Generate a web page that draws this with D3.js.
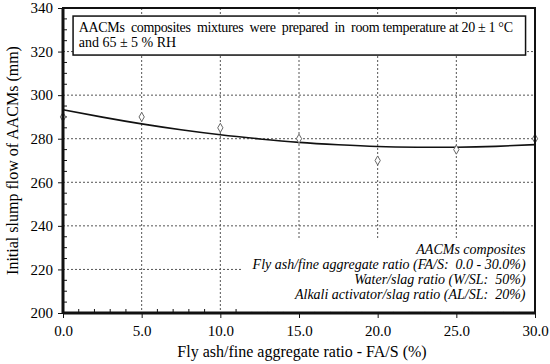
<!DOCTYPE html>
<meta charset="utf-8">
<head>
    <script type="text/javascript" src="https://cdn.jsdelivr.net/npm/d3@7/dist/d3.min.js"></script>
    <style>
        body { margin: 0; background: #fff; }
        text { font-family: "Liberation Serif", "Times New Roman", serif; fill: #000; }
        .note { white-space: pre; }
    </style>
</head>
<body>
<div id="chart"></div>
</body>
<script>
    // measured points (FA/S %, slump flow mm)
    var faRatio = [0, 5, 10, 15, 20, 25, 30];
    var slumpFlow = [290, 290, 285, 280, 270, 275, 280];

    // trend curve
    var trendX = [0, 2.5, 5, 7.5, 10, 12.5, 15, 17.5, 20, 22.5, 25, 27.5, 30];
    var trendY = [293.3, 289.9, 286.8, 284.1, 281.8, 279.9, 278.3, 277.2, 276.4, 276.1, 276.1, 276.5, 277.3];

    var xTicks = [0, 5, 10, 15, 20, 25, 30];
    var yTicks = [200, 220, 240, 260, 280, 300, 320, 340];

    var noteTop = ["AACMs  composites  mixtures  were  prepared  in  room temperature at 20 ± 1 °C",
                   "and 65 ± 5 % RH"];
    var noteBottom = ["AACMs composites",
                      "Fly ash/fine aggregate ratio (FA/S:  0.0 - 30.0%)",
                      "Water/slag ratio (W/SL:  50%)",
                      "Alkali activator/slag ratio (AL/SL:  20%)"];

    var W = 550, H = 364;
    var margin = {top: 8, right: 15, bottom: 51, left: 63};
    var width = W - margin.left - margin.right;
    var height = H - margin.top - margin.bottom;

    var svg = d3.select('#chart').append('svg')
        .attr('width', W).attr('height', H);
    var g = svg.append('g').attr('transform', 'translate(' + margin.left + ',' + margin.top + ')');

    var x = d3.scaleLinear().domain([0, 30]).range([0, width]);
    var y = d3.scaleLinear().domain([200, 340]).range([height, 0]);

    // grid
    g.append('g').selectAll('line').data(yTicks.slice(1, -1)).enter().append('line')
        .attr('x1', 0).attr('x2', width)
        .attr('y1', d => y(d)).attr('y2', d => y(d))
        .attr('stroke', '#555').attr('stroke-width', 1).attr('stroke-dasharray', '2,2');
    g.append('g').selectAll('line').data(xTicks.slice(1, -1)).enter().append('line')
        .attr('y1', 0).attr('y2', height)
        .attr('x1', d => x(d)).attr('x2', d => x(d))
        .attr('stroke', '#555').attr('stroke-width', 1).attr('stroke-dasharray', '2,2');

    // minor ticks inside
    var xMinor = d3.range(0, 30.01, 1).filter(d => d % 5 !== 0);
    var yMinor = d3.range(200, 340.01, 5).filter(d => d % 20 !== 0);
    g.append('g').selectAll('line').data(xMinor).enter().append('line')
        .attr('x1', d => x(d)).attr('x2', d => x(d))
        .attr('y1', height).attr('y2', height - 4)
        .attr('stroke', '#111');
    g.append('g').selectAll('line').data(yMinor).enter().append('line')
        .attr('x1', 0).attr('x2', 4)
        .attr('y1', d => y(d)).attr('y2', d => y(d))
        .attr('stroke', '#111');

    // axes
    var xAxis = g.append('g').attr('transform', 'translate(0,' + height + ')')
        .call(d3.axisBottom(x).tickValues(xTicks).tickFormat(d3.format('.1f')).tickSize(5).tickPadding(7));
    var yAxis = g.append('g')
        .call(d3.axisLeft(y).tickValues(yTicks).tickSize(5).tickPadding(5));
    [xAxis, yAxis].forEach(function (a) {
        a.select('.domain').remove();
        a.selectAll('line').attr('stroke', '#111');
        a.selectAll('text').attr('font-family', '"Liberation Serif", serif')
            .attr('font-size', 15).attr('fill', '#000');
    });

    // top note box
    var box = g.append('g');
    box.append('rect').attr('x', x(0.64)).attr('y', y(336.3))
        .attr('width', x(29.4) - x(0.64)).attr('height', y(318.4) - y(336.3))
        .attr('fill', '#fff').attr('stroke', '#111').attr('stroke-width', 1.5);
    box.selectAll('text').data(noteTop).enter().append('text')
        .attr('class', 'note')
        .attr('x', x(1.0)).attr('y', (d, i) => y(329.2) + i * 15)
        .attr('font-size', 14)
        .attr('textLength', (d, i) => i === 0 ? x(28.6) - x(1.0) : null)
        .text(d => d);

    // bottom note (no border)
    g.append('rect').attr('x', x(11.4)).attr('y', y(233.5))
        .attr('width', x(29.9) - x(11.4)).attr('height', y(200.5) - y(233.5))
        .attr('fill', '#fff');
    g.append('g').selectAll('text').data(noteBottom).enter().append('text')
        .attr('class', 'note')
        .attr('x', x(29.4)).attr('y', (d, i) => y(227) + i * 15)
        .attr('text-anchor', 'end').attr('font-style', 'italic').attr('font-size', 14)
        .text(d => d);

    // trend curve
    var line = d3.line().x(d => x(d[0])).y(d => y(d[1])).curve(d3.curveNatural);
    g.append('path').datum(trendX.map((d, i) => [d, trendY[i]]))
        .attr('d', line).attr('fill', 'none').attr('stroke', '#111').attr('stroke-width', 1.6);

    // data markers
    g.append('g').selectAll('path').data(faRatio).enter().append('path')
        .attr('transform', (d, i) => 'translate(' + x(d) + ',' + y(slumpFlow[i]) + ')')
        .attr('d', d3.symbol().type(d3.symbolDiamond).size(24))
        .attr('fill', '#fff').attr('stroke', '#666').attr('stroke-width', 1);

    // frame
    g.append('rect').attr('width', width).attr('height', height)
        .attr('fill', 'none').attr('stroke', '#111').attr('stroke-width', 2);
    g.append('line').attr('x1', 0).attr('x2', 0).attr('y1', 0).attr('y2', height)
        .attr('stroke', '#111').attr('stroke-width', 3);
    g.append('line').attr('x1', 0).attr('x2', width).attr('y1', height).attr('y2', height)
        .attr('stroke', '#111').attr('stroke-width', 3);

    // axis titles
    svg.append('text').attr('x', 302).attr('y', 357)
        .attr('text-anchor', 'middle').attr('font-size', 16)
        .text('Fly ash/fine aggregate ratio - FA/S (%)');
    svg.append('text').attr('transform', 'translate(18,' + (margin.top + height / 2) + ') rotate(-90)')
        .attr('text-anchor', 'middle').attr('font-size', 16)
        .text('Initial slump flow of AACMs (mm)');
</script>
</html>
